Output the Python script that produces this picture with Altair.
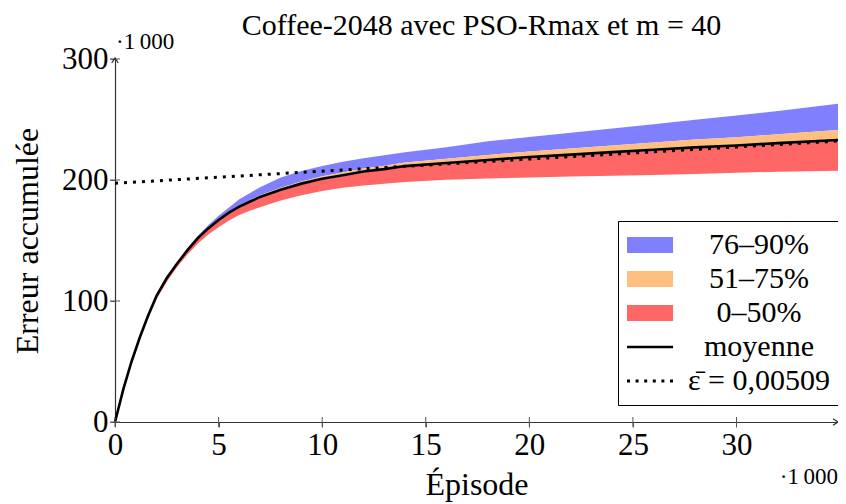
import altair as alt
import pandas as pd

# ---- data (x in thousands of episodes, y in thousands) ----
episodes = [0, 0.4, 0.8, 1.2, 1.6, 2.0, 2.5, 3.0, 3.5, 4.0, 4.5, 5.0, 5.5, 6.0, 6.5, 7, 8, 9, 10,
            11, 12, 13, 14, 16, 18, 20, 22, 24, 26, 28, 30, 32, 34.9]
q0 = [0, 26, 48.5, 68, 85.5, 101.5, 116, 128, 138.5, 147.5, 155, 161, 166.5, 171, 174.5, 177.5,
      183, 187.5, 191, 193.5, 195.5, 197, 198.3, 200.2, 201.2, 202, 202.8, 203.5, 204.2, 205,
      206, 206.8, 207.7]
q50 = [0, 26.2, 49.2, 69.2, 87.2, 103.2, 118.2, 130.2, 141.2, 151.2, 159.2, 166.2, 172.2, 177.2,
       181.2, 185.2, 191.2, 196.2, 200.2, 203.2, 206.2, 208.2, 210.7, 213.2, 215.7, 218.2, 220.2,
       222.2, 224.2, 226.2, 227.7, 229.7, 232.2]
q75 = [0, 27.3, 50.3, 70.3, 88.3, 104.3, 119.3, 131.3, 142.4, 152.5, 160.6, 167.8, 173.9, 179,
       183.2, 187.3, 193.6, 198.8, 203, 206.3, 209.6, 211.8, 214.5, 217.5, 220.7, 223.6, 226,
       228.5, 231, 233.4, 235.4, 237.8, 241.3]
q90 = [0, 27, 50, 70.2, 88.3, 104.5, 119.7, 132, 143.5, 154, 162.7, 170.5, 177.2, 184, 189,
       194, 202, 207.5, 211.5, 215, 218, 220.5, 223, 227, 232, 235.5, 239, 242.5, 246, 249.8,
       253.4, 257, 263]
moyenne = [0, 27, 50, 70, 88, 104, 119, 131, 142, 152, 160, 167, 173, 178, 182, 186, 192, 197,
           201, 204, 207, 209, 211.5, 214, 216.5, 219, 221, 223, 225, 227, 228.5, 230.5, 233]
eps_x = [0, 34.9]
eps_y = [197.3, 232.2]

x_ticks = [0, 5, 10, 15, 20, 25, 30]
y_ticks = [0, 100, 200, 300]
cats = ["76–90%", "51–75%", "0–50%", "moyenne", "\u03b5\u0304 = 0,00509"]
colors = ["#8080ff", "#ffbf80", "#ff6666", "black", "black"]

title_txt = ["Coffee-2048 avec PSO-Rmax et m = 40"]
scale_txt = ["\u00b71\u2009000"]

# ---- styling ----
FONT = "Liberation Serif"
W, H = 723, 363
XMAX = 34.9

df = pd.DataFrame({"x": episodes, "q0": q0, "q50": q50, "q75": q75, "q90": q90, "moy": moyenne})
eps_df = pd.DataFrame({"x": eps_x, "y": eps_y})

xs = alt.Scale(domain=[0, XMAX], nice=False, zero=False)
ys = alt.Scale(domain=[0, 300], nice=False)

xaxis = alt.Axis(values=x_ticks, title="Épisode", format="d", grid=False,
                 labelFont=FONT, labelFontSize=31, labelColor="black", labelPadding=3,
                 labelFlush=False, labelOverlap=False,
                 titleFont=FONT, titleFontSize=32, titleFontWeight="normal", titleColor="black",
                 titlePadding=9, domainColor="#333", domainWidth=1.2,
                 tickColor="#555", tickSize=5, tickWidth=1)
yaxis = alt.Axis(values=y_ticks, title="Erreur accumulée", format="d", grid=False,
                 labelFont=FONT, labelFontSize=31, labelColor="black", labelPadding=2,
                 labelFlush=False, labelOverlap=False,
                 titleFont=FONT, titleFontSize=32, titleFontWeight="normal", titleColor="black",
                 titlePadding=17, domainColor="#333", domainWidth=1.2,
                 tickColor="#555", tickSize=5, tickWidth=1)

def X(field="x"):
    return alt.X(f"{field}:Q", scale=xs, axis=xaxis)

def Y(field):
    return alt.Y(f"{field}:Q", scale=ys, axis=yaxis)

# legend symbols (custom paths in the unit space of a size-900 symbol)
rect = "M-1,-0.53H2.07V0.53H-1Z"
line = "M-1,-0.085H2.07V0.085H-1Z"
dots = " ".join(f"M{-1 + i * 0.573:.3f},-0.1h0.2v0.2h-0.2Z" for i in range(6))
shapes = [rect, rect, rect, line, dots]

legend = alt.Legend(title=None, orient="none", legendX=503, legendY=162, direction="vertical",
                    symbolSize=900, symbolStrokeWidth=0, symbolOpacity=1,
                    labelFont=FONT, labelFontSize=30, labelColor="black", labelAlign="center",
                    labelOffset=102, labelLimit=400, rowPadding=4, padding=9,
                    strokeColor="black", fillColor="white")

leg_df = pd.DataFrame({"cat": cats, "x": [0] * 5, "y": [0] * 5})
legend_layer = alt.Chart(leg_df).mark_point(filled=True, opacity=0, size=1).encode(
    x=X("x"), y=Y("y"),
    color=alt.Color("cat:N", scale=alt.Scale(domain=cats, range=colors), sort=cats, legend=legend),
    shape=alt.Shape("cat:N", scale=alt.Scale(domain=cats, range=shapes), sort=cats, legend=legend),
)

base = alt.Chart(df)
blue = base.mark_area(color="#8080ff", opacity=1).encode(x=X(), y=Y("q75"), y2="q90:Q")
orange = base.mark_area(color="#ffbf80", opacity=1).encode(x=X(), y=Y("q50"), y2="q75:Q")
red = base.mark_area(color="#ff6666", opacity=1).encode(x=X(), y=Y("q0"), y2="q50:Q")
mean_line = base.mark_line(color="black", strokeWidth=2.6).encode(x=X(), y=Y("moy"))
eps_line = alt.Chart(eps_df).mark_line(color="black", strokeWidth=3, strokeDash=[3, 6]).encode(
    x=X("x"), y=Y("y"))

# ticks crossing the axis lines (TikZ style)
xt = alt.Chart(pd.DataFrame({"v": x_ticks})).mark_tick(
    orient="vertical", size=10, thickness=1, color="#555", opacity=1).encode(
    x=X("v"), y=alt.value(H))
yt = alt.Chart(pd.DataFrame({"v": y_ticks})).mark_tick(
    orient="horizontal", size=10, thickness=1, color="#555", opacity=1).encode(
    y=Y("v"), x=alt.value(0))

title_mark = alt.Chart(pd.DataFrame({"t": title_txt})).mark_text(
    font=FONT, fontSize=30, color="black", align="center", baseline="alphabetic").encode(
    text="t:N", x=alt.value(W / 2 + 5), y=alt.value(-24))
scale_top = alt.Chart(pd.DataFrame({"t": scale_txt})).mark_text(
    font=FONT, fontSize=23, color="black", align="left", baseline="alphabetic").encode(
    text="t:N", x=alt.value(1), y=alt.value(-10))
scale_bot = alt.Chart(pd.DataFrame({"t": scale_txt})).mark_text(
    font=FONT, fontSize=23, color="black", align="right", baseline="alphabetic").encode(
    text="t:N", x=alt.value(W), y=alt.value(H + 62))

one = pd.DataFrame({"a": [0]})
arrow_x = alt.Chart(one).mark_point(shape="M-1,-0.65L0,0L-1,0.65", filled=False, color="#333",
                                    strokeWidth=1.3, size=100, opacity=1).encode(
    x=alt.value(W), y=alt.value(H))
arrow_y = alt.Chart(one).mark_point(shape="M-0.65,1L0,0L0.65,1", filled=False, color="#333",
                                    strokeWidth=1.3, size=100, opacity=1).encode(
    x=alt.value(0), y=alt.value(-1))

chart = alt.layer(legend_layer, blue, orange, red, mean_line, eps_line, xt, yt,
                  title_mark, scale_top, scale_bot, arrow_x, arrow_y).properties(
    width=W, height=H,
    padding={"left": 107, "top": 51, "right": 0, "bottom": 80},
    autosize=alt.AutoSizeParams(type="none"),
).configure(font=FONT).configure_view(stroke=None).configure_text(font=FONT).configure_axis(
    labelFont=FONT, titleFont=FONT).configure_legend(labelFont=FONT)

chart.save("out.html", embed_options={"renderer": "svg", "actions": False})
